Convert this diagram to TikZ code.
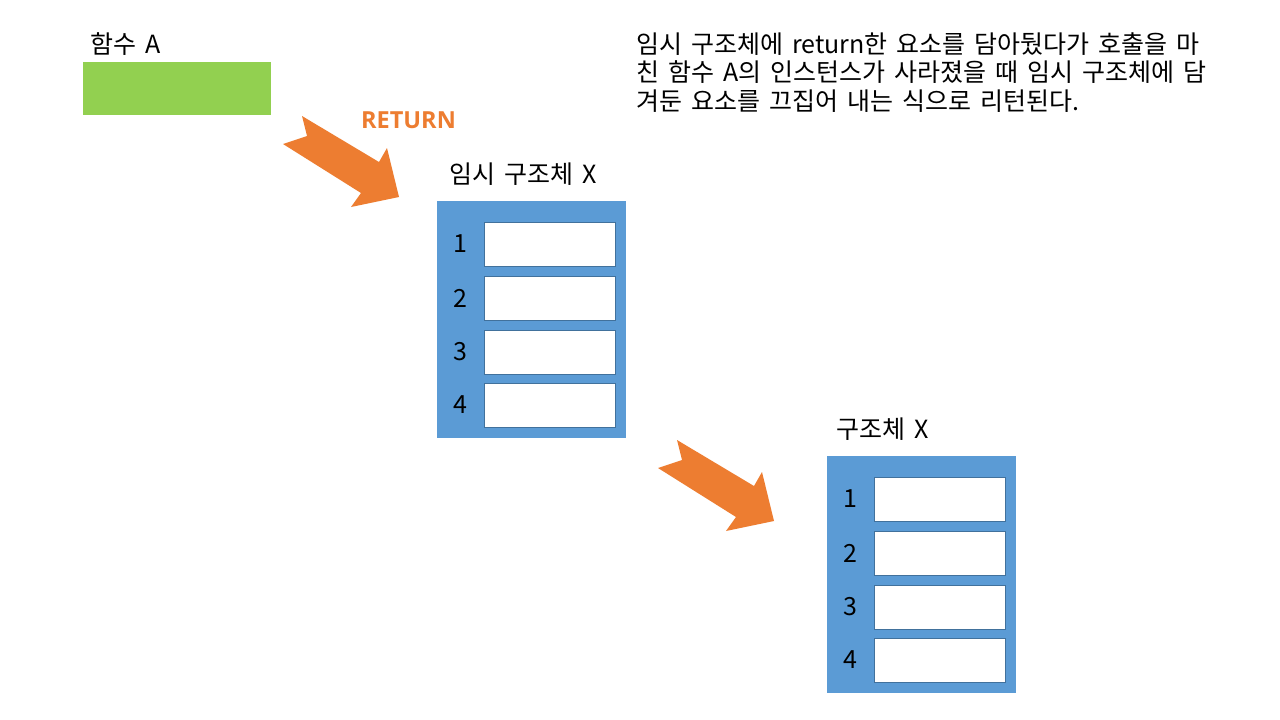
\documentclass[tikz,border=0pt]{standalone}
\usepackage{fontspec}
\setmainfont{Noto Sans CJK KR}
\newfontfamily\retfont{Open Sans}
\newcommand\mylblfont{\fontsize{25}{28.5}\selectfont\spaceskip=9pt plus 2pt minus 1pt\relax}
\definecolor{orangeA}{HTML}{ED7D31}
\definecolor{greenA}{HTML}{92D050}
\definecolor{blueA}{HTML}{5B9BD5}
\definecolor{cellline}{HTML}{41719C}
\begin{document}
\begin{tikzpicture}[x=1pt,y=-1pt,
  lbl/.style={font=\mylblfont, inner sep=0pt},
  panel/.style={fill=blueA, draw=none},
  cell/.style={fill=white, draw=cellline, line width=1pt},
  bigarrow/.style={fill=orangeA, draw=none}]
\path[use as bounding box, fill=white] (0,0) rectangle (1280,720);

% function A
\node[lbl, anchor=base west] (fa) at (90,53) {함수 A};
\fill[greenA] (83,62) rectangle (271,115);

% RETURN label
\node[inner sep=0pt, anchor=base west, text=orangeA, font=\retfont\bfseries\fontsize{23.5}{26}\selectfont] (ret) at (361,128) {RETURN};

% arrows
\foreach \dx/\dy in {0/0, 375/324}{
  \fill[bigarrow, shift={(\dx,\dy)}] (283,144) -- (307,136) -- (302,116) -- (379,162) -- (387,148) -- (399,197) -- (351,207) -- (361,193) -- cycle;
}

% struct panels
\foreach \dx/\dy in {0/0, 390/255}{
  \begin{scope}[shift={(\dx,\dy)}]
    \fill[panel] (437,201) rectangle (626,438);
    \foreach \i/\t in {1/222, 2/276, 3/330, 4/383}{
      \draw[cell] (484,\t) rectangle (615,\t+44);
      \node[lbl] at (460,\t+22) {\i};
    }
  \end{scope}
}
\node[lbl, anchor=base west] (tmp) at (449,183) {임시 구조체 X};
\node[lbl, anchor=base west] (st) at (836,438) {구조체 X};

% explanation
\node[lbl, anchor=base west] (l1) at (636,53) {임시 구조체에 return한 요소를 담아뒀다가 호출을 마};
\node[lbl, anchor=base west] (l2) at (636,81.5) {친 함수 A의 인스턴스가 사라졌을 때 임시 구조체에 담};
\node[lbl, anchor=base west] (l3) at (636,110) {겨둔 요소를 끄집어 내는 식으로 리턴된다.};
\end{tikzpicture}
\end{document}
